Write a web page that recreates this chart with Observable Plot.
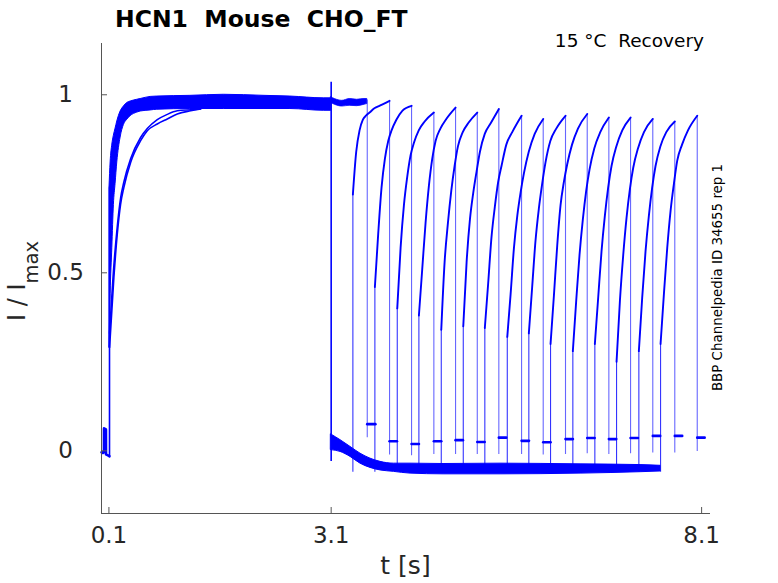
<!DOCTYPE html>
<html><head><meta charset="utf-8">
<script src="https://cdn.jsdelivr.net/npm/d3@7"></script>
<script src="https://cdn.jsdelivr.net/npm/@observablehq/plot@0.6"></script>
<style>body{margin:0;background:#fff} svg{display:block}</style>
</head><body><div id="chart"></div>
<script>
// ---------- axes ----------
const xTicks = [0.1, 3.1, 8.1];
const yTicks = [0, 0.5, 1];
const yTickLabels = ["0", "0.5", "1"];
const xDomain = [0, 8.22];
const yDomain = [-0.176, 1.144];

// ---------- pre-pulse baseline (t < 0.1 s) ----------
const baseT = [0, 0.02, 0.033, 0.034, 0.06, 0.061, 0.08, 0.107];
const baseV = [-0.004, -0.006, -0.004, 0.063, 0.06, -0.01, -0.012, -0.015];

// ---------- first (conditioning) pulse, fast sweeps band ----------
const bandT  = [0.108, 0.123, 0.146, 0.167, 0.19, 0.213, 0.258, 0.302, 0.348, 0.393, 0.483, 0.528, 0.663, 0.753, 1.2, 1.65, 2.2, 2.55, 3.0, 3.1];
const bandHi = [0.74, 0.81, 0.86, 0.885, 0.905, 0.925, 0.953, 0.967, 0.977, 0.981, 0.986, 0.988, 0.994, 0.995, 0.997, 1.0, 0.997, 0.995, 0.99, 0.99];
const bandLo = [0.29, 0.44, 0.57, 0.69, 0.75, 0.81, 0.88, 0.915, 0.93, 0.94, 0.95, 0.953, 0.956, 0.958, 0.96, 0.96, 0.96, 0.96, 0.955, 0.955];

// ---------- first pulse, two slower sweeps ----------
const slowT = [0.109, 0.167, 0.213, 0.258, 0.302, 0.393, 0.528, 0.618, 0.753, 0.888, 1.023, 1.203, 1.338];
const slowA = [0.29, 0.487, 0.609, 0.693, 0.74, 0.81, 0.871, 0.899, 0.918, 0.932, 0.946, 0.955, 0.96];
const slowB = [0.33, 0.52, 0.63, 0.71, 0.755, 0.82, 0.88, 0.905, 0.93, 0.945, 0.955, 0.958, 0.96];

// ---------- step transients ----------
const stepOnT = 0.108, stepOnV = [-0.02, 0.74];
const stepOffT = 3.1, stepOffV = [-0.03, 1.035];

// ---------- deactivation band (between pulses) ----------
const deT  = [3.1, 3.226, 3.361, 3.496, 3.631, 3.766, 3.946, 4.171, 4.617, 5.386, 6.466, 7.276, 7.546];
const deHi = [0.046, 0.03, 0.011, -0.008, -0.022, -0.031, -0.036, -0.036, -0.037, -0.036, -0.038, -0.04, -0.042];
const deLo = [0.002, -0.003, -0.017, -0.036, -0.048, -0.055, -0.059, -0.064, -0.066, -0.066, -0.064, -0.06, -0.058];

// ---------- sweep with no interval (k = 0) ----------
const platT  = [3.1, 3.15, 3.25, 3.35, 3.45, 3.55, 3.587];
const platHi = [0.993, 0.988, 0.983, 0.988, 0.986, 0.988, 0.988];
const platLo = [0.977, 0.972, 0.967, 0.969, 0.968, 0.972, 0.974];

// ---------- test pulses ----------
const riseT = [3.393, 3.690, 3.992, 4.284, 4.586, 4.883, 5.174, 5.477, 5.768, 6.061, 6.362, 6.659, 6.952, 7.253, 7.546];
const dropT = [3.587, 3.888, 4.185, 4.486, 4.779, 5.072, 5.363, 5.670, 5.962, 6.263, 6.556, 6.848, 7.141, 7.441, 7.738, 8.041];
const riseFrom = -0.06;
const recOffsets = [0, 0.045, 0.09, 0.135, 0.18, 0.225, 0.29, 0.37];
const recValues = [
  [0.72, 0.84, 0.90, 0.93, 0.942, 0.95, 0.962, 0.97],
  [0.46, 0.61, 0.74, 0.82, 0.87, 0.90, 0.93, 0.955],
  [0.40, 0.57, 0.69, 0.77, 0.83, 0.865, 0.90, 0.925],
  [0.38, 0.51, 0.64, 0.744, 0.82, 0.87, 0.905, 0.932],
  [0.34, 0.53, 0.64, 0.73, 0.80, 0.855, 0.895, 0.922],
  [0.35, 0.53, 0.65, 0.725, 0.785, 0.84, 0.89, 0.92],
  [0.345, 0.47, 0.60, 0.685, 0.755, 0.80, 0.86, 0.895],
  [0.32, 0.44, 0.57, 0.66, 0.726, 0.78, 0.84, 0.89],
  [0.33, 0.46, 0.59, 0.68, 0.75, 0.81, 0.87, 0.905],
  [0.30, 0.435, 0.576, 0.69, 0.755, 0.805, 0.86, 0.905],
  [0.28, 0.42, 0.55, 0.65, 0.73, 0.79, 0.85, 0.895],
  [0.30, 0.43, 0.56, 0.66, 0.74, 0.80, 0.855, 0.90],
  [0.25, 0.42, 0.55, 0.655, 0.735, 0.795, 0.85, 0.895],
  [0.28, 0.43, 0.56, 0.66, 0.74, 0.80, 0.855, 0.895],
  [0.30, 0.44, 0.57, 0.674, 0.75, 0.815, 0.86, 0.90]
];
const peakV   = [0.985, 0.983, 0.969, 0.95, 0.964, 0.95, 0.96, 0.941, 0.932, 0.941, 0.946, 0.936, 0.936, 0.932, 0.925, 0.941];
const dropLow = [0.037, -0.012, -0.014, -0.01, -0.01, -0.01, -0.01, -0.01, -0.012, -0.01, -0.008, -0.01, -0.008, -0.006, -0.006, -0.002];
const tailV   = [0.075, 0.027, 0.019, 0.027, 0.03, 0.025, 0.037, 0.028, 0.024, 0.033, 0.036, 0.033, 0.036, 0.042, 0.042, 0.037];
const tailLen = [0.11, 0.1, 0.1, 0.1, 0.1, 0.1, 0.1, 0.1, 0.1, 0.1, 0.1, 0.1, 0.1, 0.1, 0.1, 0.1];

// ---------- texts ----------
const titleText = "HCN1  Mouse  CHO_FT";
const subText = "15 °C  Recovery";
const sideText = "BBP Channelpedia ID 34655 rep 1";
const xLabel = "t [s]";

// ---------- build tables ----------
const base = baseT.map((t, i) => ({t, v: baseV[i]}));
const band = bandT.map((t, i) => ({t, hi: bandHi[i], lo: bandLo[i]}));
const slow = [
  ...slowT.map((t, i) => ({s: "A", t, v: slowA[i]})),
  ...slowT.map((t, i) => ({s: "B", t, v: slowB[i]}))
];
const deact = deT.map((t, i) => ({t, hi: deHi[i], lo: deLo[i]}));
const plat = platT.map((t, i) => ({t, hi: platHi[i], lo: platLo[i]}));
const rec = [];
riseT.forEach((r, i) => {
  recOffsets.forEach((o, j) => rec.push({k: i + 1, t: r + o, v: recValues[i][j]}));
  rec.push({k: i + 1, t: dropT[i + 1], v: peakV[i + 1]});
});
const riseRules = riseT.map((r, i) => ({t: r, y1: riseFrom, y2: recValues[i][0]}));
const dropRules = dropT.map((d, k) => ({t: d, y1: dropLow[k], y2: peakV[k]}));
const tails = [];
dropT.forEach((d, k) => {
  tails.push({k, t: d, v: tailV[k]});
  tails.push({k, t: d + tailLen[k], v: tailV[k]});
});
const steps = [
  {t: stepOnT, y1: stepOnV[0], y2: stepOnV[1]},
  {t: stepOffT, y1: stepOffV[0], y2: stepOffV[1]}
];

const BLUE = "#0000ff";
const AXIS = "#555";

const chart = Plot.plot({
  width: 778,
  height: 583,
  marginLeft: 101,
  marginRight: 68,
  marginTop: 43,
  marginBottom: 70,
  style: {fontFamily: "DejaVu Sans", fontSize: "23px", color: "#262626", background: "#fff"},
  x: {domain: xDomain},
  y: {domain: yDomain},
  marks: [
    Plot.line(base, {x: "t", y: "v", stroke: BLUE, strokeWidth: 2.6}),
    Plot.areaY(band, {x: "t", y1: "lo", y2: "hi", fill: BLUE, stroke: BLUE, strokeWidth: 1, curve: "monotone-x"}),
    Plot.line(slow, {x: "t", y: "v", z: "s", stroke: BLUE, strokeWidth: 1.6, curve: "monotone-x"}),
    Plot.areaY(deact, {x: "t", y1: "lo", y2: "hi", fill: BLUE, stroke: BLUE, strokeWidth: 1, curve: "monotone-x"}),
    Plot.areaY(plat, {x: "t", y1: "lo", y2: "hi", fill: BLUE, stroke: BLUE, strokeWidth: 0.8, curve: "monotone-x"}),
    Plot.ruleX(steps, {x: "t", y1: "y1", y2: "y2", stroke: BLUE, strokeWidth: 1.6}),
    Plot.ruleX(riseRules, {x: "t", y1: "y1", y2: "y2", stroke: BLUE, strokeWidth: 1.1, strokeOpacity: 0.8}),
    Plot.ruleX(dropRules, {x: "t", y1: "y1", y2: "y2", stroke: BLUE, strokeWidth: 1.1, strokeOpacity: 0.6}),
    Plot.line(rec, {x: "t", y: "v", z: "k", stroke: BLUE, strokeWidth: 1.9, curve: "monotone-x"}),
    Plot.line(tails, {x: "t", y: "v", z: "k", stroke: BLUE, strokeWidth: 2.6}),
    // axis lines
    Plot.ruleX([xDomain[0]], {stroke: AXIS, strokeWidth: 1}),
    Plot.ruleY([yDomain[0]], {stroke: AXIS, strokeWidth: 1}),
    // inward ticks + labels
    Plot.axisX(xTicks, {tickSize: 6, dy: -6, tickPadding: 13, stroke: AXIS, tickFormat: d => d.toFixed(1), label: null, fill: "#262626"}),
    Plot.axisY(yTicks, {tickSize: 6, dx: 6, tickPadding: 36, textAnchor: "middle", stroke: AXIS,
      tickFormat: d => yTickLabels[yTicks.indexOf(d)], label: null, fill: "#262626"})
  ]
});

document.getElementById("chart").appendChild(chart);

const svg = d3.select(chart);
svg.append("text").attr("x", 115).attr("y", 27).attr("text-anchor", "start")
  .attr("font-family", "DejaVu Sans").attr("font-weight", "bold").attr("font-size", 23.5)
  .attr("fill", "#000").style("white-space", "pre").text(titleText);
svg.append("text").attr("x", 704).attr("y", 46.5).attr("text-anchor", "end")
  .attr("font-family", "DejaVu Sans").attr("font-size", 18.5)
  .attr("fill", "#000").style("white-space", "pre").text(subText);
svg.append("text").attr("x", 405.5).attr("y", 574).attr("text-anchor", "middle")
  .attr("font-family", "DejaVu Sans").attr("font-size", 25)
  .attr("fill", "#262626").text(xLabel);
const yl = svg.append("text").attr("transform", "translate(25,321) rotate(-90)").attr("text-anchor", "start")
  .attr("font-family", "DejaVu Sans").attr("font-size", 24).attr("fill", "#262626")
  .style("white-space", "pre");
yl.append("tspan").text("I / I");
yl.append("tspan").attr("dy", 13).attr("font-size", 19.5).text("max");
svg.append("text").attr("transform", "translate(721.5,277.5) rotate(-90)").attr("text-anchor", "middle")
  .attr("font-family", "DejaVu Sans").attr("font-size", 13.4).attr("fill", "#000").text(sideText);
</script>
</body></html>
